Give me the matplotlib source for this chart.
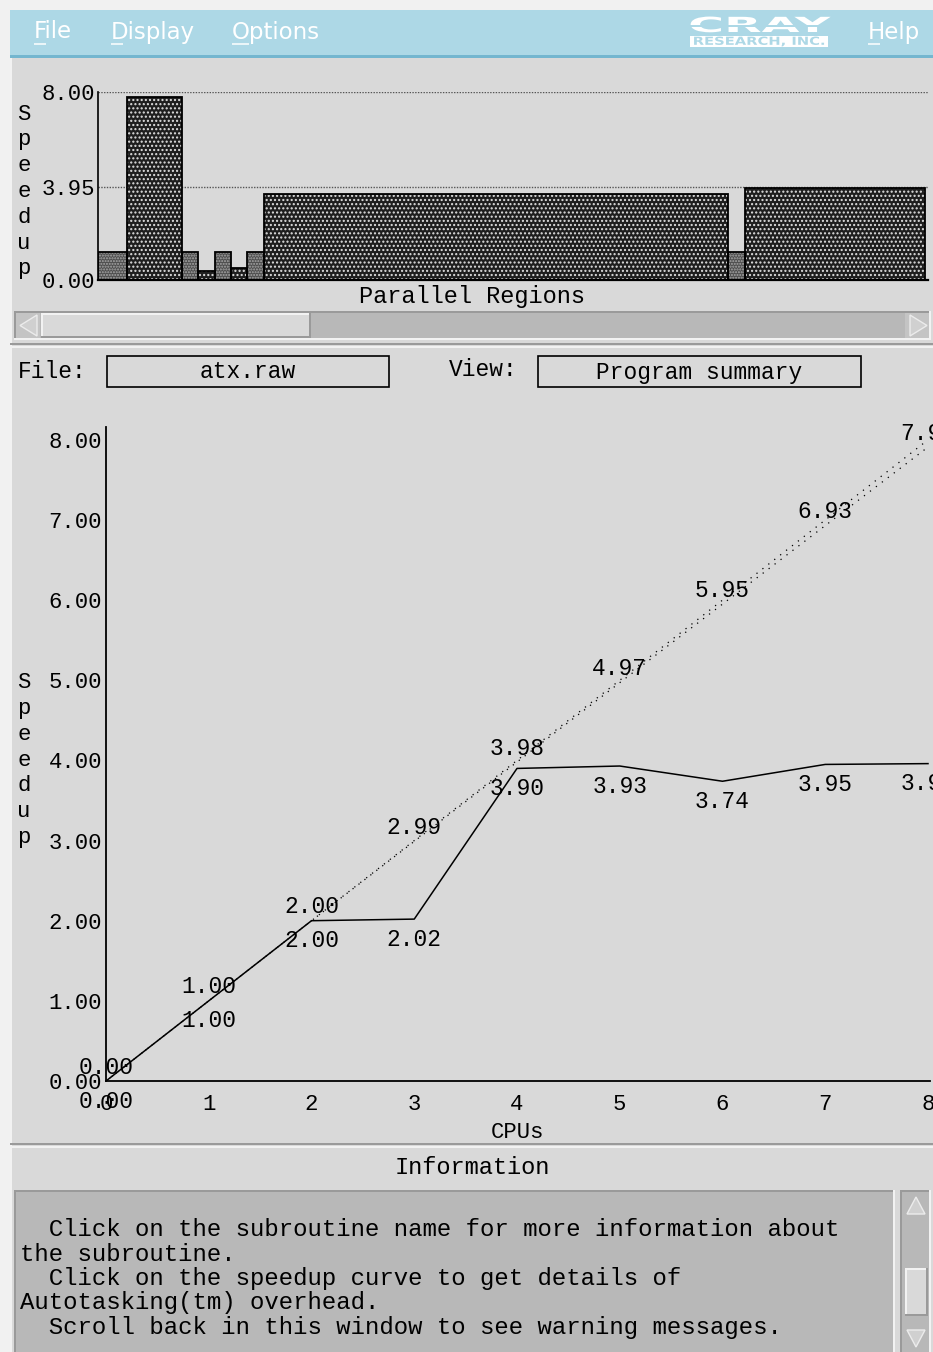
import numpy as np
import matplotlib
matplotlib.use("Agg")
import matplotlib.pyplot as plt
from matplotlib.patches import Rectangle, Polygon
from matplotlib.patheffects import AbstractPathEffect
from matplotlib.transforms import Affine2D

W, H = 933, 1352

# --- data ---
region_time = [29, 55, 16, 17, 16, 16, 17, 464, 17, 180]
region_speedup = [1.20, 7.78, 1.20, 0.38, 1.20, 0.52, 1.20, 3.65, 1.20, 3.93]
top_ref_lines = [8.00, 3.95]

cpus = [0, 1, 2, 3, 4, 5, 6, 7, 8]
ideal_speedup = [0, 1, 2, 3, 4, 5, 6, 7, 8]
predicted_speedup = [0.00, 1.00, 2.00, 2.99, 3.98, 4.97, 5.95, 6.93, 7.91]
actual_speedup = [0.00, 1.00, 2.00, 2.02, 3.90, 3.93, 3.74, 3.95, 3.96]

menu_items = ["File", "Display", "Options", "Help"]
file_name = "atx.raw"
view_name = "Program summary"
info_lines = [
    "  Click on the subroutine name for more information about",
    "the subroutine.",
    "  Click on the speedup curve to get details of",
    "Autotasking(tm) overhead.",
    "  Scroll back in this window to see warning messages.",
]

BG = "#d9d9d9"
MENU = "#add8e6"
TROUGH = "#b8b8b8"
LIGHT = "#f2f2f2"
DARK = "#9a9a9a"
MONO = "Liberation Mono"


class HStretch(AbstractPathEffect):
    # stretch text horizontally to a given pixel width (for the logo)
    def __init__(self, width):
        super().__init__()
        self.width = width

    def draw_path(self, renderer, gc, tpath, affine, rgbFace=None):
        bb = tpath.get_extents(affine)
        cx = (bb.x0 + bb.x1) / 2
        sx = self.width / bb.width
        t = affine + Affine2D().translate(-cx, 0).scale(sx, 1).translate(cx, 0)
        renderer.draw_path(gc, tpath, t, rgbFace)


fig = plt.figure(figsize=(W / 100, H / 100), dpi=100, facecolor="#f1f1f1")
bg = fig.add_axes([0, 0, 1, 1])
bg.set_xlim(0, W)
bg.set_ylim(H, 0)
bg.axis("off")
bg.set_zorder(0)


def px_axes(l, t, r, b):
    return fig.add_axes([l / W, 1 - b / H, (r - l) / W, (b - t) / H])


def rect(x0, y0, x1, y1, fc, z=1):
    bg.add_patch(Rectangle((x0, y0), x1 - x0, y1 - y0, fc=fc, ec="none", zorder=z))


def hline(y, x0, x1, c, w=2, z=3):
    bg.plot([x0, x1], [y, y], color=c, lw=w * 0.72, solid_capstyle="butt", zorder=z)


def vline(x, y0, y1, c, w=2, z=3):
    bg.plot([x, x], [y0, y1], color=c, lw=w * 0.72, solid_capstyle="butt", zorder=z)


def bevel(x0, y0, x1, y1, raised=True, w=2):
    tl, br = (LIGHT, DARK) if raised else (DARK, LIGHT)
    hline(y0 + w / 2, x0, x1, tl, w)
    vline(x0 + w / 2, y0, y1, tl, w)
    hline(y1 - w / 2, x0, x1, br, w)
    vline(x1 - w / 2, y0, y1, br, w)


# window background and menu bar
rect(10, 10, W, H, BG)
rect(10, 10, W, 55, MENU, z=2)
rect(10, 55, W, 58, "#74b6cf", z=2)
vline(11, 58, H, LIGHT, 2)

menu_x = [34, 111, 232, 868]
for name, x in zip(menu_items, menu_x):
    bg.text(x, 32, name, color="white", fontsize=16.5, family="DejaVu Sans",
            ha="left", va="center", zorder=4)
    hline(44, x, x + (12 if name != "Options" else 17), "white", 1.5, z=4)

# CRAY logo
bg.text(760, 26, "CRAY", color="white", fontsize=15, weight="heavy",
        family="DejaVu Sans", ha="center", va="center", zorder=4,
        path_effects=[HStretch(140)])
hline(25.5, 686, 834, MENU, 2, z=5)
rect(690, 36, 828, 47, "white", z=4)
bg.text(759, 41.8, "RESEARCH, INC.", color=MENU, fontsize=8, weight="bold",
        family="DejaVu Sans", ha="center", va="center", zorder=5,
        path_effects=[HStretch(130)])

# --- top: speedup by parallel region ---
ax1 = px_axes(98, 92, 928, 280)
ax1.set_facecolor("none")
lefts = np.concatenate([[0], np.cumsum(region_time)[:-1]])
region_fine = [1.0 < h < 1.5 for h in region_speedup]
for x, w, h, fine in zip(lefts, region_time, region_speedup, region_fine):
    if fine:
        ax1.bar(x, h, width=w, align="edge", color="#4e4e4e", edgecolor="#a8a8a8",
                hatch="......", linewidth=0, zorder=2)
    else:
        ax1.bar(x, h, width=w, align="edge", color="#1e1e1e", edgecolor="#e0e0e0",
                hatch="....", linewidth=0, zorder=2)
ax1.bar(lefts, region_speedup, width=region_time, align="edge", fill=False,
        edgecolor="black", linewidth=1.3, zorder=3)
for v in top_ref_lines:
    ax1.axhline(v, color="#555555", lw=1.0, ls=(0, (1, 1)), zorder=1)
ax1.set_xlim(0, sum(region_time) + 3)
ax1.set_ylim(0, 8.0)
ax1.set_yticks([0.0] + top_ref_lines)
ax1.set_yticklabels([f"{v:.2f}" for v in [0.0] + top_ref_lines])
ax1.set_xticks([])
ax1.tick_params(axis="y", length=0, pad=2.2, labelsize=16)
for lab in ax1.get_yticklabels():
    lab.set_family(MONO)
for s in ["top", "right"]:
    ax1.spines[s].set_visible(False)
ax1.spines["left"].set_linewidth(1.2)
ax1.spines["bottom"].set_linewidth(1.6)

bg.text(24, 191.5, "\n".join("Speedup"), family=MONO, fontsize=16, ha="center",
        va="center", linespacing=1.3, zorder=4)
bg.text(472, 296, "Parallel Regions", family=MONO, fontsize=17, ha="center",
        va="center", zorder=4)

# horizontal scrollbar
rect(14, 311, 931, 340, TROUGH, z=2)
bevel(14, 311, 931, 340, raised=False)
rect(16, 313, 40, 338, "#c4c4c4", z=3)
bg.add_patch(Polygon([(20, 325.5), (37, 315), (37, 336)], closed=True, fc="#d0d0d0",
                     ec="#ececec", lw=1, zorder=4))
rect(41, 313, 311, 338, BG, z=3)
bevel(41, 313, 311, 338, raised=True)
rect(905, 313, 929, 338, "#c4c4c4", z=3)
bg.add_patch(Polygon([(927, 325.5), (910, 315), (910, 336)], closed=True, fc="#d0d0d0",
                     ec="#ececec", lw=1, zorder=4))
hline(344, 10, W, DARK, 2)
hline(346.5, 10, W, LIGHT, 2)

# file / view row
bg.text(18, 371, "File:", family=MONO, fontsize=16.5, ha="left", va="center", zorder=4)
bg.add_patch(Rectangle((107, 356), 282, 31, fc="none", ec="black", lw=1.2, zorder=4))
bg.text(248, 372, file_name, family=MONO, fontsize=16.5, ha="center", va="center", zorder=4)
bg.text(449, 370, "View:", family=MONO, fontsize=16.5, ha="left", va="center", zorder=4)
bg.add_patch(Rectangle((538, 356), 323, 31, fc="none", ec="black", lw=1.2, zorder=4))
bg.text(699, 372, view_name, family=MONO, fontsize=16.5, ha="center", va="center", zorder=4)

# --- main: speedup vs CPUs ---
ax2 = px_axes(106, 427, 928, 1081)
ax2.set_facecolor("none")
ax2.plot(cpus, ideal_speedup, color="black", lw=0.9, ls=(0, (1, 5)), clip_on=False)
ax2.plot(cpus, predicted_speedup, color="black", lw=0.9, ls=(2, (1, 5)), clip_on=False)
ax2.plot(cpus, actual_speedup, color="black", lw=1.1, clip_on=False)
for x, v in zip(cpus, predicted_speedup):
    ax2.annotate(f"{v:.2f}", (x, v), xytext=(0, 10), textcoords="offset points",
                 ha="center", va="center", family=MONO, fontsize=16.5,
                 annotation_clip=False)
for x, v in zip(cpus, actual_speedup):
    ax2.annotate(f"{v:.2f}", (x, v), xytext=(0, -14.4), textcoords="offset points",
                 ha="center", va="center", family=MONO, fontsize=16.5,
                 annotation_clip=False)
ax2.set_xlim(0, 8)
ax2.set_ylim(0, 8.16)
ax2.set_xticks(cpus)
ax2.set_xticklabels([str(c) for c in cpus])
ax2.set_yticks(range(9))
ax2.set_yticklabels([f"{v:.2f}" for v in range(9)])
ax2.tick_params(axis="y", length=0, pad=2.9, labelsize=16)
ax2.tick_params(axis="x", length=0, pad=9.5, labelsize=16)
for lab in ax2.get_xticklabels() + ax2.get_yticklabels():
    lab.set_family(MONO)
for s in ["top", "right"]:
    ax2.spines[s].set_visible(False)
ax2.spines["left"].set_linewidth(1.3)
ax2.spines["bottom"].set_linewidth(1.3)
ax2.spines["bottom"].set_bounds(0, 8.02)
ax2.set_xlabel("CPUs", family=MONO, fontsize=16, labelpad=5)

bg.text(24, 760, "\n".join("Speedup"), family=MONO, fontsize=16, ha="center",
        va="center", linespacing=1.3, zorder=4)

# --- information panel ---
hline(1144, 10, W, DARK, 2)
hline(1146.5, 10, W, LIGHT, 2)
bg.text(472, 1168, "Information", family=MONO, fontsize=17, ha="center",
        va="center", zorder=4)
rect(14, 1190, 895, H, TROUGH, z=2)
bevel(14, 1190, 895, H + 2, raised=False)
for i, line in enumerate(info_lines):
    bg.text(20, 1230 + i * 24.3, line, family=MONO, fontsize=17.3, ha="left",
            va="center", zorder=4)

rect(900, 1190, 931, H, TROUGH, z=2)
bevel(900, 1190, 931, H + 2, raised=False)
bg.add_patch(Polygon([(916, 1197), (907, 1214), (925, 1214)], closed=True, fc="#d0d0d0",
                     ec="#ececec", lw=1, zorder=4))
rect(905, 1268, 928, 1316, BG, z=3)
bevel(905, 1268, 928, 1316, raised=True)
bg.add_patch(Polygon([(907, 1330), (925, 1330), (916, 1347)], closed=True, fc="#d0d0d0",
                     ec="#ececec", lw=1, zorder=4))

fig.savefig("out.png", dpi=100, facecolor=fig.get_facecolor())
